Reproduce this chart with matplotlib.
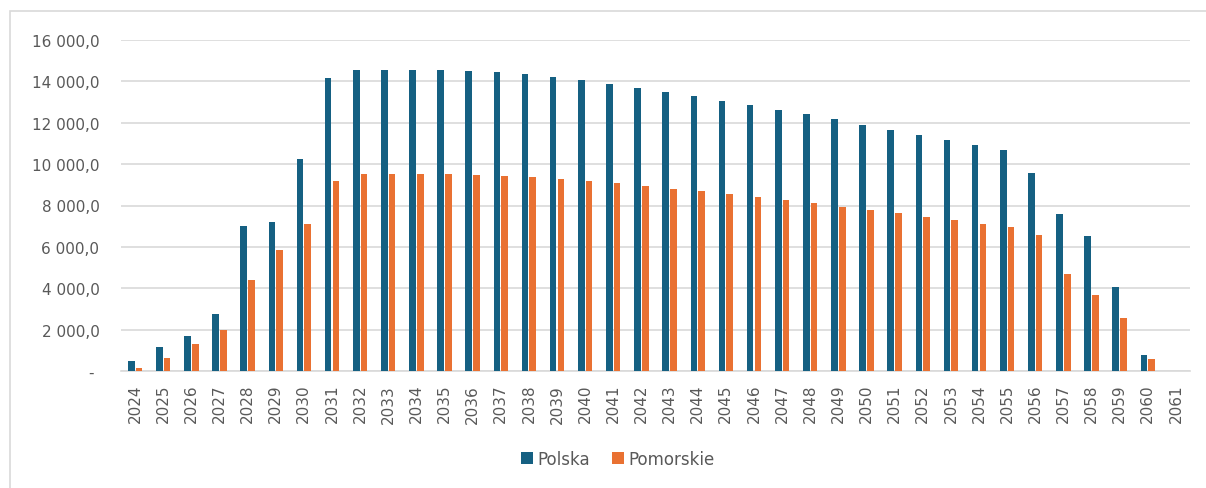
import numpy as np
import matplotlib
matplotlib.use("Agg")
import matplotlib.pyplot as plt
from matplotlib.patches import Rectangle
from matplotlib.ticker import FuncFormatter, MultipleLocator

years = list(range(2024, 2062))

polska = [500, 1150, 1720, 2770, 7000, 7190, 10230, 14130, 14540, 14560,
          14560, 14520, 14490, 14440, 14330, 14200, 14050, 13880, 13680, 13470,
          13270, 13040, 12850, 12610, 12400, 12160, 11900, 11660, 11400, 11160,
          10920, 10660, 9590, 7580, 6510, 4050, 770, 10]

pomorskie = [150, 620, 1320, 1980, 4390, 5870, 7110, 9180, 9500, 9520,
             9520, 9500, 9470, 9420, 9360, 9290, 9180, 9090, 8940, 8810,
             8680, 8540, 8390, 8250, 8100, 7940, 7780, 7620, 7450, 7300,
             7120, 6960, 6590, 4710, 3700, 2570, 600, 5]

blue = "#156082"
orange = "#E97132"
text_grey = "#595959"
grid_grey = "#D9D9D9"

plt.rcParams["font.family"] = ["DejaVu Sans"]

fig = plt.figure(figsize=(12.06, 4.89), dpi=100)
ax = fig.add_axes([121 / 1206, 116.7 / 489, (1190 - 121) / 1206, (372.3 - 40.7) / 489])

x = np.arange(len(years))
w = 0.235
ax.bar(x - w / 2 - 0.02, polska, width=w, color=blue, label="Polska", zorder=3)
ax.bar(x + w / 2 + 0.02, pomorskie, width=w, color=orange, label="Pomorskie", zorder=3)

ax.set_xlim(-0.5, len(years) - 0.5)
ax.set_ylim(0, 16000)
ax.yaxis.set_major_locator(MultipleLocator(2000))


def pl_fmt(v, pos):
    if v == 0:
        return "- "
    return f"{v:,.1f}".replace(",", " ").replace(".", ",")


ax.yaxis.set_major_formatter(FuncFormatter(pl_fmt))
ax.set_xticks(x)
ax.set_xticklabels([str(y) for y in years], rotation=90)

ax.grid(axis="y", color=grid_grey, linewidth=1.2, zorder=0)
for side in ["top", "right", "left"]:
    ax.spines[side].set_visible(False)
ax.spines["bottom"].set_color(grid_grey)
ax.spines["bottom"].set_linewidth(1.2)

ax.tick_params(axis="y", length=0, pad=15.5, labelsize=11, labelcolor=text_grey)
ax.tick_params(axis="x", length=0, pad=9, labelsize=11, labelcolor=text_grey)

fig.legend(loc="center", bbox_to_anchor=(618 / 1206, 1 - 460 / 489), ncol=2,
           frameon=False, fontsize=12, handlelength=0.7, handleheight=0.7,
           handletextpad=0.3, columnspacing=1.3, labelcolor=text_grey)

# light frame around the whole chart area
fig.patches.append(Rectangle((10 / 1206, -0.05), 1.1, 1 - 12 / 489 + 0.05,
                             transform=fig.transFigure, fill=False,
                             edgecolor="#D9D9D9", linewidth=1.2))

fig.savefig("out.png", dpi=100)
